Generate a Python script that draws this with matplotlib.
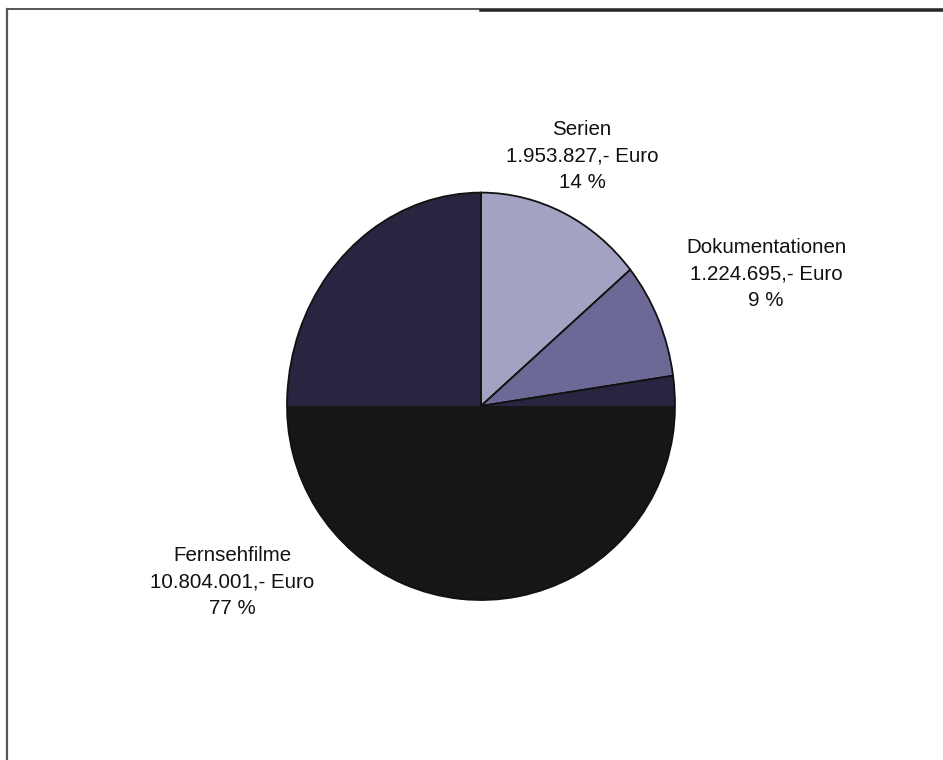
import matplotlib

matplotlib.use("Agg")
import matplotlib.pyplot as plt
from matplotlib.patches import Polygon
from matplotlib.lines import Line2D
from matplotlib.transforms import Affine2D

# Kosten je Sparte
sparten = ["Serien", "Dokumentationen", "Fernsehfilme"]
betraege = [1953827, 1224695, 10804001]
farben_oben = ["#a3a2c3", "#6c6997", "#27253f"]
farben_unten = ["#a3a2c3", "#6c6997", "#161616"]

# Lage der Beschriftungen (Pixel, Mitte der mittleren Zeile)
label_pos = [(582, 156), (766, 274), (232, 582)]

W, H = 943, 760
cx, cy = 481, H - 406
radius = 194


def euro(v):
    return "{:,}".format(v).replace(",", ".") + ",- Euro"


fig = plt.figure(figsize=(W / 100, H / 100), dpi=100)
ax = fig.add_axes([0, 0, 1, 1])

wp = dict(edgecolor="#111111", linewidth=1.3)

# obere Hälfte (etwas gestreckt wie im Scan)
wedges_top, _ = ax.pie(betraege, colors=farben_oben, startangle=90,
                       counterclock=False, center=(cx, cy), radius=radius,
                       wedgeprops=wp)
# untere Hälfte
wedges_bot, _ = ax.pie(betraege, colors=farben_unten, startangle=90,
                       counterclock=False, center=(cx, cy), radius=radius,
                       wedgeprops=wp)

ax.set_xlim(0, W)
ax.set_ylim(0, H)
ax.set_aspect("auto")
ax.axis("off")

# pie() schaltet das Clipping ab, daher wieder einschalten
stretch = Affine2D().translate(-cx, -cy).scale(1, 1.1).translate(cx, cy)
clip_top = Polygon([(0, cy), (W, cy), (W, H), (0, H)], closed=True,
                   transform=ax.transData)
clip_bot = Polygon([(0, 0), (W, 0), (W, cy), (0, cy)], closed=True,
                   transform=ax.transData)
for w in wedges_top:
    w.set_transform(stretch + ax.transData)
    w.set_clip_on(True)
    w.set_clip_path(clip_top)
for w in wedges_bot:
    w.set_clip_on(True)
    w.set_clip_path(clip_bot)

gesamt = sum(betraege)
for name, v, (x, y) in zip(sparten, betraege, label_pos):
    pct = round(v / gesamt * 100)
    ax.text(x, H - y, f"{name}\n{euro(v)}\n{pct} %", ha="center", va="center",
            fontsize=14.8, family="Liberation Sans", color="#111111",
            linespacing=1.52)

# Rahmen links und oben
fig.add_artist(Line2D([7.5 / W, 7.5 / W], [0, 1 - 9 / H], color="#555555",
                      linewidth=1.6, transform=fig.transFigure))
fig.add_artist(Line2D([7 / W, 1], [1 - 9 / H, 1 - 9 / H], color="#555555",
                      linewidth=1.4, transform=fig.transFigure))
fig.add_artist(Line2D([480 / W, 1], [1 - 10 / H, 1 - 10 / H], color="#222222",
                      linewidth=1.8, transform=fig.transFigure))

fig.savefig("out.png", dpi=100, facecolor="white")
